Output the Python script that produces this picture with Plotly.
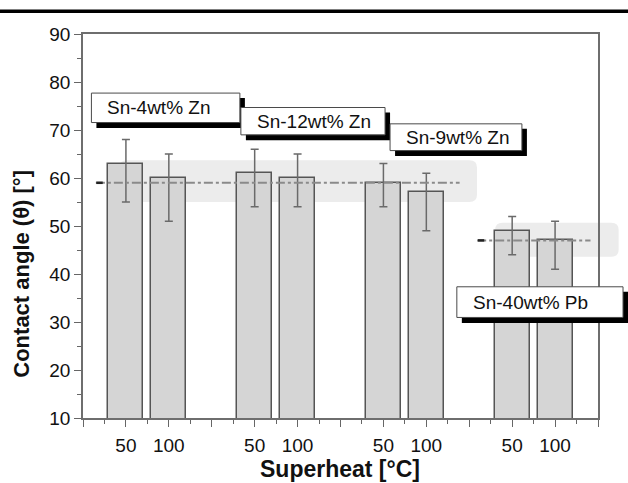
import plotly.graph_objects as go

# ---- data ----
alloys = ["Sn-4wt% Zn", "Sn-12wt% Zn", "Sn-9wt% Zn", "Sn-40wt% Pb"]
superheat = ["50", "100"]
angle = [63, 60, 61, 60, 59, 57, 49, 47]
err_plus = [5, 5, 5, 5, 4, 4, 3, 4]
err_minus = [8, 9, 7, 6, 5, 8, 5, 6]
mean_zn = 59
mean_pb = 47
x_title = "Superheat [°C]"
y_title = "Contact angle (θ) [°]"

# ---- geometry (layout) ----
L, R, T, B = 83.3, 597.7, 34.3, 417.7
W, H = 628, 483
XMAX = 24

def px(xp):
    return (xp - L) / (R - L)

def py(yp):
    return (B - yp) / (B - T)

xs = []
for g in range(len(alloys)):
    for j in range(len(superheat)):
        xs.append(2 + 6 * g + 2 * j)

font = "Liberation Sans, Arial, Helvetica, sans-serif"

fig = go.Figure()

fig.add_trace(go.Bar(
    x=xs, y=angle, width=1.63,
    marker=dict(color="#d5d5d5", line=dict(color="#555555", width=1.5)),
    error_y=dict(type="data", symmetric=False, array=err_plus, arrayminus=err_minus,
                 color="#6a6a6a", thickness=1.5, width=4),
    showlegend=False, hoverinfo="skip",
))

# mean lines
fig.add_trace(go.Scatter(x=[0.6, 17.55], y=[mean_zn, mean_zn], mode="lines",
                         line=dict(color="#8a8a8a", width=2, dash="dashdot"),
                         showlegend=False, hoverinfo="skip"))
fig.add_trace(go.Scatter(x=[18.37, 23.65], y=[mean_pb, mean_pb], mode="lines",
                         line=dict(color="#8a8a8a", width=2, dash="dashdot"),
                         showlegend=False, hoverinfo="skip"))
# darker starting dashes
fig.add_trace(go.Scatter(x=[0.62, 0.92], y=[mean_zn, mean_zn], mode="lines",
                         line=dict(color="#222222", width=2.5),
                         showlegend=False, hoverinfo="skip"))
fig.add_trace(go.Scatter(x=[18.4, 18.7], y=[mean_pb, mean_pb], mode="lines",
                         line=dict(color="#222222", width=2.5),
                         showlegend=False, hoverinfo="skip"))

shapes = []

def rounded(x0, x1, y0, y1, rx, ry):
    return (f"M {x0+rx},{y0} L {x1-rx},{y0} Q {x1},{y0} {x1},{y0+ry} "
            f"L {x1},{y1-ry} Q {x1},{y1} {x1-rx},{y1} L {x0+rx},{y1} "
            f"Q {x0},{y1} {x0},{y1-ry} L {x0},{y0+ry} Q {x0},{y0} {x0+rx},{y0} Z")

# shaded bands
shapes.append(dict(type="path", xref="x", yref="y", layer="below",
                   path=rounded(1.7, 18.36, 55.0, 63.7, 0.35, 1.5),
                   fillcolor="#ececec", line=dict(width=0)))
shapes.append(dict(type="path", xref="paper", yref="y", layer="below",
                   path=rounded(px(495), px(618.3), 43.6, 50.7, 0.014, 1.5),
                   fillcolor="#ececec", line=dict(width=0)))

# top black rule
shapes.append(dict(type="line", xref="paper", yref="paper",
                   x0=px(-5), x1=px(640), y0=py(11.5), y1=py(11.5),
                   line=dict(color="black", width=3.5)))

# label boxes with shadows (pixel boxes)
boxes = [(91.7, 93.3, 240, 122.7), (241, 107.7, 385, 135),
         (390, 124, 521.7, 150.7), (456.7, 286.7, 622.7, 317.3)]
annotations = []
for name, (x0, y0, x1, y1) in zip(alloys, boxes):
    shapes.append(dict(type="rect", xref="paper", yref="paper", layer="above",
                       x0=px(x0 + 5), x1=px(x1 + 5), y0=py(y1 + 5.5), y1=py(y0 + 5),
                       fillcolor="black", line=dict(width=0)))
    shapes.append(dict(type="rect", xref="paper", yref="paper", layer="above",
                       x0=px(x0), x1=px(x1), y0=py(y1), y1=py(y0),
                       fillcolor="white", line=dict(color="#4a4a4a", width=1)))
    annotations.append(dict(xref="paper", yref="paper", x=px(x0 + 14),
                            y=py((y0 + y1) / 2), xanchor="left", yanchor="middle",
                            text=name, showarrow=False,
                            font=dict(family=font, size=19, color="#111111")))

# axis titles
annotations.append(dict(xref="paper", yref="paper", x=px(340.5), y=py(469),
                        xanchor="center", yanchor="middle", showarrow=False,
                        text=f"<b>{x_title}</b>",
                        font=dict(family=font, size=23, color="#111111")))
annotations.append(dict(xref="paper", yref="paper", x=px(21), y=py(274),
                        xanchor="center", yanchor="middle", showarrow=False,
                        textangle=-90, text=f"<b>{y_title}</b>",
                        font=dict(family=font, size=22, color="#111111")))

tickvals = list(range(0, XMAX + 1, 2))
ticktext = []
for v in tickvals:
    if v in xs:
        ticktext.append(superheat[xs.index(v) % 2])
    else:
        ticktext.append("")

fig.update_layout(
    width=W, height=H,
    margin=dict(l=L, r=W - R, t=T, b=H - B),
    paper_bgcolor="white", plot_bgcolor="white",
    shapes=shapes, annotations=annotations,
    font=dict(family=font, size=19, color="#111111"),
    xaxis=dict(range=[0, XMAX], tickvals=tickvals, ticktext=ticktext,
               ticks="outside", ticklen=7, tickwidth=1.2, tickcolor="#666666",
               minor=dict(dtick=1, ticks="outside", ticklen=4, tickcolor="#666666", tickwidth=1),
               showline=True, linecolor="#6e6e6e", linewidth=1.5, mirror=True,
               showgrid=False, zeroline=False, ticklabelstandoff=2,
               tickfont=dict(size=19, family=font, color="#111111")),
    yaxis=dict(range=[10, 90], dtick=10, tick0=10,
               ticks="outside", ticklen=7, tickwidth=1.2, tickcolor="#666666",
               minor=dict(dtick=5, ticks="outside", ticklen=4, tickcolor="#666666", tickwidth=1),
               showline=True, linecolor="#6e6e6e", linewidth=1.5, mirror=True,
               showgrid=False, zeroline=False,
               tickfont=dict(size=19, family=font, color="#111111")),
    bargap=0,
)

fig.write_html("out.html")
